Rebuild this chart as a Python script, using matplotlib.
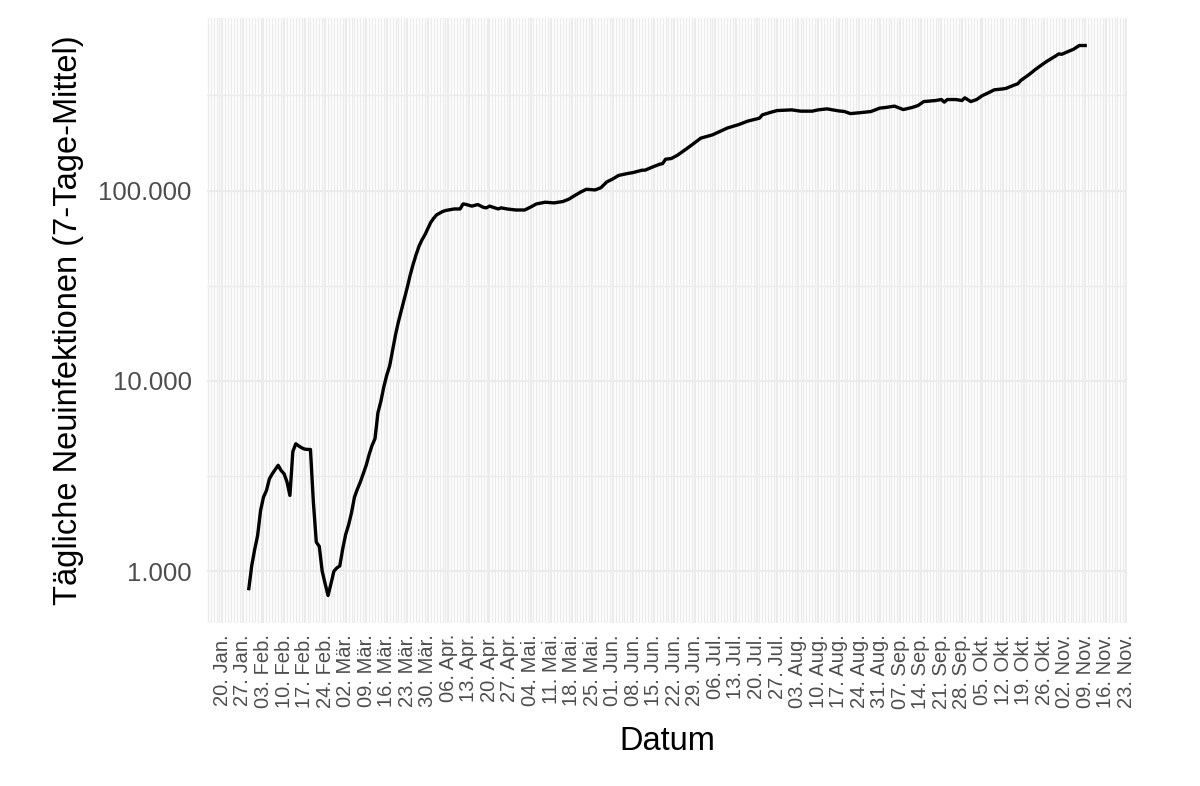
import numpy as np
import pandas as pd
import matplotlib
matplotlib.use("Agg")
import matplotlib.pyplot as plt
import matplotlib.dates as mdates
from matplotlib.ticker import FixedLocator, FuncFormatter, LogLocator, NullFormatter

# 7-Tage-Mittel der täglichen Neuinfektionen
datum = [
    "2020-01-29", "2020-01-30", "2020-01-31", "2020-02-01", "2020-02-02", "2020-02-03",
    "2020-02-04", "2020-02-05", "2020-02-06", "2020-02-07", "2020-02-08", "2020-02-09",
    "2020-02-10", "2020-02-11", "2020-02-12", "2020-02-13", "2020-02-14", "2020-02-15",
    "2020-02-16", "2020-02-17", "2020-02-18", "2020-02-19", "2020-02-20", "2020-02-21",
    "2020-02-22", "2020-02-23", "2020-02-24", "2020-02-25", "2020-02-26", "2020-02-27",
    "2020-02-28", "2020-02-29", "2020-03-01", "2020-03-02", "2020-03-03", "2020-03-04",
    "2020-03-05", "2020-03-06", "2020-03-07", "2020-03-08", "2020-03-09", "2020-03-10",
    "2020-03-11", "2020-03-12", "2020-03-13", "2020-03-14", "2020-03-15", "2020-03-16",
    "2020-03-17", "2020-03-18", "2020-03-19", "2020-03-20", "2020-03-21", "2020-03-22",
    "2020-03-23", "2020-03-24", "2020-03-25", "2020-03-26", "2020-03-27", "2020-03-28",
    "2020-03-29", "2020-03-30", "2020-03-31", "2020-04-01", "2020-04-02", "2020-04-03",
    "2020-04-04", "2020-04-05", "2020-04-06", "2020-04-08", "2020-04-10", "2020-04-11",
    "2020-04-12", "2020-04-14", "2020-04-16", "2020-04-18", "2020-04-19", "2020-04-20",
    "2020-04-23", "2020-04-24", "2020-04-26", "2020-04-29", "2020-05-01", "2020-05-02",
    "2020-05-04", "2020-05-06", "2020-05-09", "2020-05-12", "2020-05-15", "2020-05-17",
    "2020-05-19", "2020-05-21", "2020-05-23", "2020-05-26", "2020-05-28", "2020-05-30",
    "2020-06-01", "2020-06-03", "2020-06-06", "2020-06-08", "2020-06-11", "2020-06-12",
    "2020-06-15", "2020-06-17", "2020-06-18", "2020-06-19", "2020-06-21", "2020-06-23",
    "2020-06-26", "2020-06-28", "2020-07-01", "2020-07-05", "2020-07-07", "2020-07-10",
    "2020-07-14", "2020-07-17", "2020-07-21", "2020-07-22", "2020-07-25", "2020-07-27",
    "2020-08-01", "2020-08-04", "2020-08-08", "2020-08-10", "2020-08-13", "2020-08-17",
    "2020-08-19", "2020-08-21", "2020-08-24", "2020-08-28", "2020-08-31", "2020-09-02",
    "2020-09-05", "2020-09-08", "2020-09-11", "2020-09-13", "2020-09-15", "2020-09-18",
    "2020-09-19", "2020-09-21", "2020-09-22", "2020-09-23", "2020-09-26", "2020-09-28",
    "2020-09-29", "2020-10-01", "2020-10-03", "2020-10-05", "2020-10-07", "2020-10-09",
    "2020-10-12", "2020-10-13", "2020-10-16", "2020-10-17", "2020-10-18", "2020-10-21",
    "2020-10-23", "2020-10-25", "2020-10-27", "2020-10-30", "2020-10-31", "2020-11-01",
    "2020-11-03", "2020-11-05", "2020-11-07", "2020-11-09",
]
neuinfektionen = [
    810, 1070, 1300, 1540, 2080, 2450,
    2650, 3050, 3250, 3420, 3600, 3380,
    3250, 2950, 2500, 4250, 4670, 4550,
    4450, 4380, 4360, 4360, 2300, 1420,
    1350, 1000, 860, 745, 860, 1000,
    1040, 1065, 1310, 1560, 1750, 2030,
    2450, 2700, 2940, 3250, 3600, 4100,
    4580, 4970, 6800, 7800, 9300, 10700,
    12000, 14500, 17500, 20500, 23500, 27000,
    31000, 36000, 41000, 46000, 51000, 55000,
    58500, 63000, 68000, 71500, 74500, 76000,
    77500, 78500, 79000, 80000, 80000, 85000,
    84500, 82800, 84400, 81500, 81100, 82800,
    80000, 81100, 80000, 79000, 79000, 79000,
    81800, 85000, 86800, 86100, 87500, 90000,
    94000, 98000, 101500, 100700, 103500, 111000,
    115000, 120000, 122800, 124300, 127900, 127900,
    133700, 137400, 138500, 146000, 147300, 153100,
    165000, 173800, 188400, 196100, 202600, 212800,
    222200, 231500, 239900, 249800, 258000, 263000,
    265300, 261200, 261200, 265300, 268500, 262000,
    260000, 253600, 256100, 260000, 271000, 273000,
    277600, 266300, 273000, 279500, 293300, 296000,
    297000, 300600, 291200, 300600, 300600, 297000,
    306900, 293300, 300600, 315500, 326000, 338000,
    342000, 344000, 359000, 363400, 378000, 408000,
    432100, 455000, 478000, 510000, 522400, 519600,
    536000, 552000, 578000, 578000,
]
monate = ["Jan.", "Feb.", "Mär.", "Apr.", "Mai.", "Jun.",
          "Jul.", "Aug.", "Sep.", "Okt.", "Nov.", "Dez."]

plt.rcParams["font.family"] = ["Liberation Sans", "DejaVu Sans"]

x = pd.to_datetime(datum)
y = np.array(neuinfektionen)

fig = plt.figure(figsize=(12, 7.86), dpi=100)
ax = fig.add_axes([207 / 1200, 1 - 623 / 786, 920 / 1200, 605 / 786])

ax.plot(x, y, color="black", lw=2.4, solid_joinstyle="round", zorder=3)
ax.set_yscale("log")
ax.margins(x=0.05, y=0.05)

# Achsen im Stil von theme_minimal
for s in ax.spines.values():
    s.set_visible(False)
ax.tick_params(which="both", length=0)

ax.yaxis.set_major_locator(FixedLocator([1e3, 1e4, 1e5, 1e6]))
ax.yaxis.set_major_formatter(FuncFormatter(lambda v, p: f"{v:,.0f}".replace(",", ".")))
ax.yaxis.set_minor_locator(LogLocator(base=10, subs=(10 ** 0.5,)))
ax.yaxis.set_minor_formatter(NullFormatter())

ax.xaxis.set_major_locator(mdates.WeekdayLocator(byweekday=mdates.MO))
ax.xaxis.set_minor_locator(mdates.DayLocator())
ax.xaxis.set_major_formatter(FuncFormatter(
    lambda v, p: mdates.num2date(v).strftime("%d. ") + monate[mdates.num2date(v).month - 1]))

ax.grid(which="major", color="#EBEBEB", lw=1.6)
ax.grid(which="minor", color="#EBEBEB", lw=0.9)
ax.set_axisbelow(True)

ax.tick_params(axis="y", labelsize=18.5, labelcolor="#4D4D4D", pad=11)
ax.tick_params(axis="x", labelsize=14.5, labelcolor="#4D4D4D", pad=8, labelrotation=90)

ax.set_xlabel("Datum", fontsize=23.5, labelpad=12)
ax.set_ylabel("Tägliche Neuinfektionen (7-Tage-Mittel)", fontsize=23.5, labelpad=10)

fig.savefig("out.png", dpi=100)
